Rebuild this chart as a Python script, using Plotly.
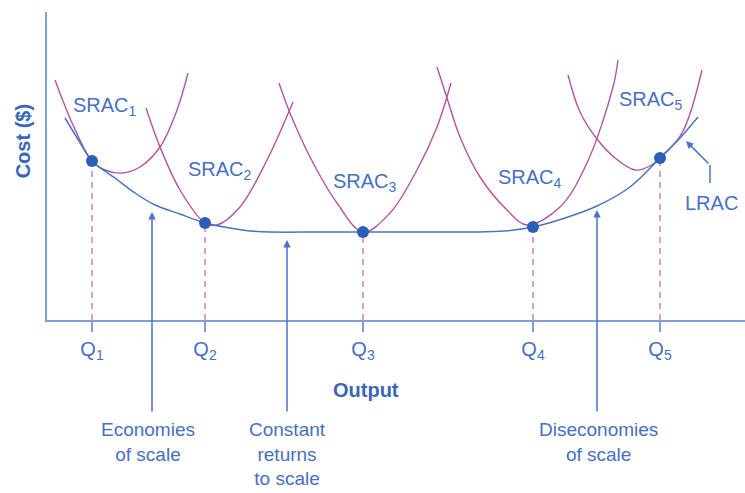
import plotly.graph_objects as go

# Output quantities (Q1..Q5) and the cost at the tangency points
q_names = ["Q<sub>1</sub>", "Q<sub>2</sub>", "Q<sub>3</sub>", "Q<sub>4</sub>", "Q<sub>5</sub>"]
q_output = [4.5, 15.8, 31.6, 48.6, 61.3]
q_cost = [15.9, 9.7, 8.8, 9.3, 16.2]

# Long-run average cost curve
lrac_x = [1.8, 3.2, 4.5, 6.8, 8.8, 10.8, 13.3, 15.8, 18.3, 20.3, 22.3, 27.3, 31.6,
          37.3, 42.3, 45.8, 48.6, 51.8, 55.0, 58.3, 61.3, 63.3, 65.1]
lrac_y = [20.2, 17.9, 15.9, 14.2, 12.7, 11.5, 10.6, 9.7, 9.2, 8.9, 8.8, 8.8, 8.8,
          8.8, 8.8, 8.9, 9.3, 10.2, 11.4, 13.3, 16.2, 18.2, 20.3]

# Short-run average cost curves
srac1_x = [0.8, 2.6, 4.5, 5.8, 7.5, 9.3, 11.3, 13.0, 14.1]
srac1_y = [24.0, 19.5, 15.9, 15.0, 14.7, 15.3, 17.3, 21.0, 24.7]
srac2_x = [9.9, 11.3, 13.3, 15.8, 17.0, 19.3, 22.0, 24.6]
srac2_y = [21.2, 17.3, 13.0, 9.7, 9.5, 11.3, 16.0, 21.8]
srac3_x = [23.2, 24.3, 26.3, 29.0, 31.6, 34.3, 37.0, 39.0, 40.4]
srac3_y = [23.7, 20.7, 16.3, 11.7, 8.8, 10.7, 15.0, 19.3, 23.7]
srac4_x = [39.0, 40.0, 41.3, 43.3, 46.0, 48.0, 51.3, 54.0, 56.6, 57.1]
srac4_y = [25.3, 22.2, 18.3, 14.3, 11.0, 9.5, 11.3, 15.7, 23.3, 26.0]
srac5_x = [52.1, 53.3, 55.0, 56.8, 58.8, 60.3, 61.3, 63.5, 65.5]
srac5_y = [24.5, 20.8, 18.1, 16.2, 15.0, 15.4, 16.2, 18.7, 25.0]

srac_curves = [(srac1_x, srac1_y), (srac2_x, srac2_y), (srac3_x, srac3_y),
               (srac4_x, srac4_y), (srac5_x, srac5_y)]
srac_labels = ["SRAC<sub>1</sub>", "SRAC<sub>2</sub>", "SRAC<sub>3</sub>", "SRAC<sub>4</sub>", "SRAC<sub>5</sub>"]
srac_label_x = [5.8, 17.3, 31.8, 48.3, 60.4]
srac_label_y = [21.4, 15.0, 13.8, 14.2, 22.0]

# Region labels under the chart and the point on the curve each arrow hits
region_text = ["Economies<br>of scale", "Constant<br>returns<br>to scale", "Diseconomies<br>of scale"]
region_x = [10.5, 24.0, 55.0]
region_tip = [10.8, 8.0, 11.0]

AXIS = "#7f9fd9"
BLUE = "#4a74c8"
MAGENTA = "#b5559f"
PINK = "#d08ac0"
DOT = "#2b5fb5"
TEXT = "#4770c0"
FONT = "Liberation Sans, Arial, sans-serif"

fig = go.Figure()

# dashed drop lines from tangency points to the axis
for qx, qy in zip(q_output, q_cost):
    fig.add_trace(go.Scatter(x=[qx, qx], y=[0, qy], mode="lines",
                             line=dict(color=PINK, width=1.6, dash="6px,5px"),
                             hoverinfo="skip"))

for cx, cy in srac_curves:
    fig.add_trace(go.Scatter(x=cx, y=cy, mode="lines",
                             line=dict(color=MAGENTA, width=1.4, shape="spline", smoothing=1.0),
                             hoverinfo="skip"))

fig.add_trace(go.Scatter(x=lrac_x, y=lrac_y, mode="lines",
                         line=dict(color=BLUE, width=1.5, shape="spline", smoothing=1.0),
                         hoverinfo="skip"))

fig.add_trace(go.Scatter(x=q_output, y=q_cost, mode="markers",
                         marker=dict(color=DOT, size=12), hoverinfo="skip"))

# LRAC label leader: short vertical piece, then arrow onto the curve
fig.add_trace(go.Scatter(x=[66.3, 66.3], y=[13.7, 15.5], mode="lines",
                         line=dict(color=BLUE, width=1.5), hoverinfo="skip"))

annotations = []
for txt, lx, ly in zip(srac_labels, srac_label_x, srac_label_y):
    annotations.append(dict(x=lx, y=ly, text=txt, showarrow=False,
                            font=dict(size=20, color=TEXT, family=FONT)))
annotations.append(dict(x=66.4, y=11.7, text="LRAC", showarrow=False,
                        font=dict(size=20, color=TEXT, family=FONT)))
annotations.append(dict(x=63.9, y=17.9, ax=66.3, ay=15.5, axref="x", ayref="y",
                        text="", showarrow=True, arrowhead=2, arrowsize=1,
                        arrowwidth=1.5, arrowcolor=BLUE))

# arrows from the bottom captions up to the curve
for rx, tip in zip(region_x, region_tip):
    annotations.append(dict(x=rx, y=tip, ax=rx, ay=-9.3, axref="x", ayref="y",
                            text="", showarrow=True, arrowhead=2, arrowsize=1,
                            arrowwidth=1.5, arrowcolor=BLUE))
for txt, rx in zip(region_text, [10.1, 24.0, 55.1]):
    annotations.append(dict(x=rx, xref="x", y=-0.315, yref="paper", yanchor="top",
                            text=txt, showarrow=False,
                            font=dict(size=19, color=TEXT, family=FONT)))

annotations.append(dict(x=31.9, xref="x", y=-0.227, yref="paper", yanchor="middle",
                        text="<b>Output</b>", showarrow=False,
                        font=dict(size=20, color="#3a66b8", family=FONT)))
annotations.append(dict(x=-0.034, xref="paper", xanchor="center", y=0.581, yref="paper",
                        yanchor="middle", text="<b>Cost ($)</b>", textangle=-90,
                        showarrow=False, font=dict(size=20, color="#3a66b8", family=FONT)))

fig.update_layout(
    width=745, height=493,
    margin=dict(l=47, r=0, t=12, b=173),
    paper_bgcolor="white", plot_bgcolor="white",
    showlegend=False,
    annotations=annotations,
    xaxis=dict(range=[0, 69.8], showgrid=False, zeroline=False,
               showline=True, linecolor=AXIS, linewidth=2,
               tickmode="array", tickvals=q_output, ticktext=q_names,
               ticks="outside", ticklen=10, tickwidth=1.5, tickcolor=AXIS,
               tickfont=dict(size=20, color=TEXT, family=FONT)),
    yaxis=dict(range=[0, 30.8], showgrid=False, zeroline=False,
               showline=True, linecolor=AXIS, linewidth=2,
               showticklabels=False, ticks=""),
)

# the page body has a default 8px margin; drop it so the figure fills the window
fig.write_html("out.html", config={"displayModeBar": False},
               post_script="document.body.style.margin='0px';")
